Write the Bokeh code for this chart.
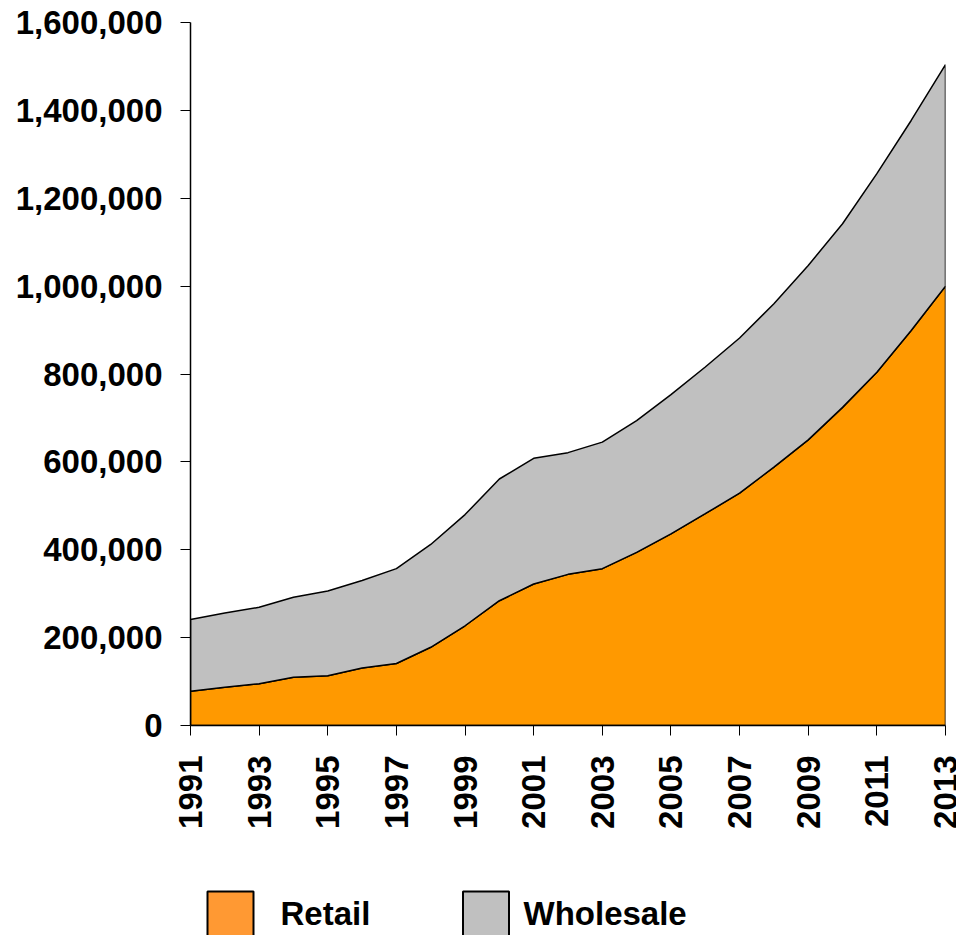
import numpy as np
from bokeh.plotting import figure
from bokeh.layouts import column
from bokeh.models import Range1d, FixedTicker, NumeralTickFormatter
from bokeh.core.properties import value
from bokeh.embed import file_html
from bokeh.resources import INLINE

years = list(range(1991, 2014))
retail = [78000, 87000, 95000, 110000, 113000, 131000, 141000, 178000, 227000, 284000,
          322000, 344000, 357000, 394000, 436000, 482000, 529000, 588000, 650000, 724000,
          804000, 899000, 1000000]
wholesale = [163000, 169000, 174000, 182000, 193000, 199000, 216000, 234000, 253000, 277000,
             286000, 277000, 288000, 300000, 317000, 334000, 353000, 372000, 397000, 418000,
             452000, 478000, 504000]
x_ticks = list(range(1991, 2014, 2))
y_ticks = list(range(0, 1600001, 200000))
legend_labels = ["Retail", "Wholesale"]
legend_colors = ["#FF9933", "#C0C0C0"]

FONT = "Liberation Sans"

total = [r + w for r, w in zip(retail, wholesale)]

p = figure(width=956, height=870, output_backend="svg", toolbar_location=None,
           x_range=Range1d(1991, 2013), y_range=Range1d(0, 1600000),
           min_border_left=190, min_border_right=11, min_border_top=22, min_border_bottom=145)
p.outline_line_color = None
p.grid.visible = False
p.background_fill_color = "white"
p.border_fill_color = "white"

# Retail area
rx = years + [years[-1], years[0]]
ry = retail + [0, 0]
p.patch(rx, ry, fill_color="#FF9900", line_color="black", line_width=1.5)

# Wholesale area (stacked on retail)
wx = years + years[::-1]
wy = total + retail[::-1]
p.patch(wx, wy, fill_color="#C0C0C0", line_color="black", line_width=1.5)

# Axes
p.xaxis.ticker = FixedTicker(ticks=x_ticks)
p.yaxis.ticker = FixedTicker(ticks=y_ticks)
p.yaxis.formatter = NumeralTickFormatter(format="0,0")
p.xaxis.major_label_orientation = np.pi / 2
for ax in (p.xaxis, p.yaxis):
    ax.axis_line_color = "black"
    ax.axis_line_width = 1.5
    ax.major_tick_line_color = "black"
    ax.major_tick_line_width = 1
    ax.major_tick_out = 10
    ax.major_tick_in = 0
    ax.minor_tick_line_color = None
    ax.major_label_text_font = FONT
    ax.major_label_text_font_style = "bold"
    ax.major_label_text_font_size = "33px"
    ax.major_label_text_color = "black"
p.yaxis.major_label_standoff = 18
p.xaxis.major_label_standoff = 20

# Legend strip: its frame is aligned with the chart frame (x 190..945 px),
# so the range below is in page pixels; y is pixels up from the page bottom.
lg = figure(width=956, height=65, output_backend="svg", toolbar_location=None,
            x_range=Range1d(190, 945), y_range=Range1d(0, 65),
            x_axis_type=None, y_axis_type=None, min_border=0)
lg.outline_line_color = None
lg.grid.visible = False
lg.background_fill_color = "white"
lg.border_fill_color = "white"
sw_x = [230, 485.5]
lg.rect(x=sw_x, y=[21, 21], width=46, height=46,
        fill_color=legend_colors, line_color="black", line_width=2)
lg.text(x=[280, 523], y=[22, 22], text=legend_labels,
        text_font=value(FONT), text_font_style="bold", text_font_size="33px",
        text_baseline="middle", text_align="left", text_color="black")

layout = column(p, lg, spacing=0)
open("out.html", "w").write(file_html(layout, INLINE))
